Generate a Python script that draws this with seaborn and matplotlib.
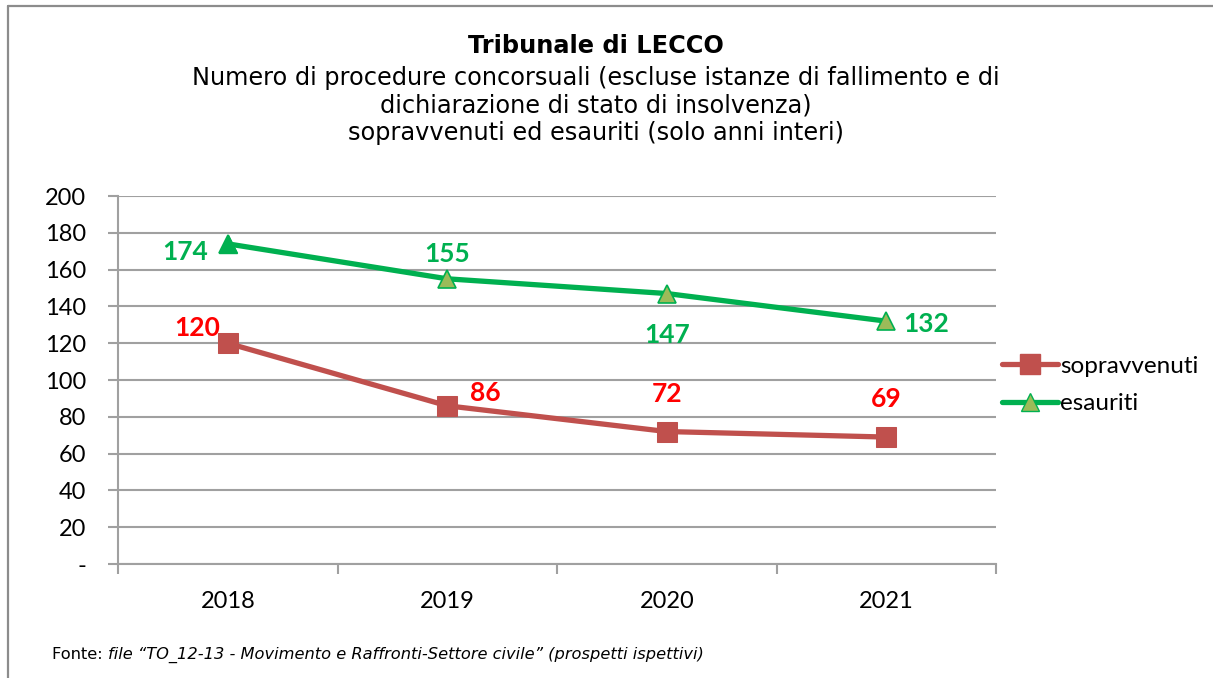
import matplotlib
matplotlib.use("Agg")
import matplotlib.pyplot as plt
import seaborn as sns
import pandas as pd
from matplotlib.lines import Line2D

# dati
anni = ["2018", "2019", "2020", "2021"]
sopravvenuti = [120, 86, 72, 69]
esauriti = [174, 155, 147, 132]
y_ticks = [0, 20, 40, 60, 80, 100, 120, 140, 160, 180, 200]
y_labels = ["-", "20", "40", "60", "80", "100", "120", "140", "160", "180", "200"]

# offset (pixel) delle etichette dati
off_sopr = [(-31, 15), (38, 13), (0, 38), (0, 38)]
off_esau = [(-43, -8), (0, 25), (0, -41), (40, -3)]

ROSSO = "#C0504D"
VERDE = "#00B050"
VERDE_CHIARO = "#9BBB59"
GRIGIO = "#A0A0A0"

sns.set_theme(style="white")
plt.rcParams["font.family"] = ["Lato", "DejaVu Sans"]
plt.rcParams["text.color"] = "black"

df = pd.DataFrame({"anno": anni, "sopravvenuti": sopravvenuti, "esauriti": esauriti})

fig = plt.figure(figsize=(12.13, 6.78), dpi=100)
ax = fig.add_axes([0.0973, 0.1681, 0.7238, 0.5428])

sns.lineplot(data=df, x="anno", y="sopravvenuti", ax=ax, color=ROSSO, lw=3.8,
             marker="s", markersize=14, markerfacecolor=ROSSO, markeredgecolor=ROSSO,
             sort=False, zorder=3)
sns.lineplot(data=df, x="anno", y="esauriti", ax=ax, color=VERDE, lw=3.8,
             marker="^", markersize=13, markerfacecolor=VERDE_CHIARO, markeredgecolor=VERDE,
             markeredgewidth=1.2, sort=False, zorder=3)
# il primo triangolo è pieno
ax.plot(df["anno"][:1], df["esauriti"][:1], ls="none", marker="^", markersize=13,
        color=VERDE, zorder=4)

for i, a in enumerate(anni):
    ax.annotate(str(sopravvenuti[i]), (i, sopravvenuti[i]), xytext=off_sopr[i],
                textcoords="offset pixels", ha="center", va="center",
                color="#FF0000", fontsize=19, fontweight="bold")
    ax.annotate(str(esauriti[i]), (i, esauriti[i]), xytext=off_esau[i],
                textcoords="offset pixels", ha="center", va="center",
                color=VERDE, fontsize=19, fontweight="bold")

ax.set_xlim(-0.5, len(anni) - 0.5)
ax.set_ylim(0, 200)
ax.set_yticks(y_ticks)
ax.set_yticklabels(y_labels)
ax.set_xticks(range(len(anni)))
ax.set_xticklabels(anni)
ax.set_xticks([i - 0.5 for i in range(len(anni) + 1)], minor=True)
ax.grid(axis="y", color=GRIGIO, lw=1.5)
ax.set_axisbelow(True)
ax.set_xlabel("")
ax.set_ylabel("")
for s in ["top", "right"]:
    ax.spines[s].set_visible(False)
for s in ["left", "bottom"]:
    ax.spines[s].set_color(GRIGIO)
    ax.spines[s].set_linewidth(1.5)
ax.tick_params(axis="y", left=True, length=7, width=1.5, color=GRIGIO, pad=16,
               labelsize=17, labelcolor="black")
ax.tick_params(axis="x", which="major", bottom=False, pad=13.5, labelsize=17,
               labelcolor="black")
ax.tick_params(axis="x", which="minor", bottom=True, length=7, width=1.5, color=GRIGIO)

handles = [
    Line2D([], [], color=ROSSO, lw=3.8, marker="s", markersize=14),
    Line2D([], [], color=VERDE, lw=3.8, marker="^", markersize=13,
           markerfacecolor=VERDE_CHIARO, markeredgecolor=VERDE),
]
fig.legend(handles, ["sopravvenuti", "esauriti"], loc="center left",
           bbox_to_anchor=(0.826, 0.432), frameon=False, fontsize=17.5,
           handlelength=2.3, handletextpad=0.1, labelspacing=0.68, borderpad=0,
           borderaxespad=0)

# titolo
fig.text(0.491, 0.932, "Tribunale di LECCO", ha="center", va="center",
         fontsize=17.3, fontweight="bold", family="DejaVu Sans")
fig.text(0.491, 0.845,
         "Numero di procedure concorsuali (escluse istanze di fallimento e di\n"
         "dichiarazione di stato di insolvenza)\n"
         "sopravvenuti ed esauriti (solo anni interi)",
         ha="center", va="center", fontsize=17.3, family="DejaVu Sans",
         linespacing=1.18)

# fonte
t1 = fig.text(0.043, 0.034, "Fonte: ", ha="left", va="center", fontsize=11.7,
              family="DejaVu Sans")
fig.canvas.draw()
bb = t1.get_window_extent(fig.canvas.get_renderer())
fig.text(bb.x1 / fig.bbox.width, 0.034,
         "file \u201cTO_12-13 - Movimento e Raffronti-Settore civile\u201d (prospetti ispettivi)",
         ha="left", va="center", fontsize=11.7, style="italic", family="DejaVu Sans")

# cornice
fig.add_artist(Line2D([0.0066, 0.0066], [0.0, 0.9912], color="#8C8C8C", lw=1.6,
                      transform=fig.transFigure))
fig.add_artist(Line2D([0.0066, 1.0], [0.9912, 0.9912], color="#8C8C8C", lw=1.6,
                      transform=fig.transFigure))

fig.savefig("out.png", dpi=100)
